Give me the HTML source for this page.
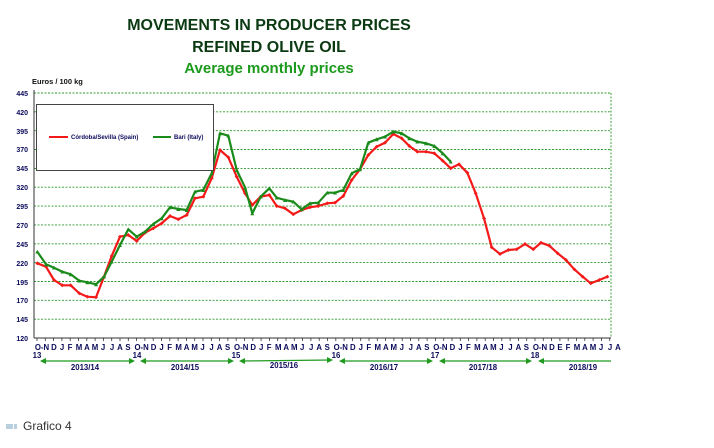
<!DOCTYPE html>
<html><head><meta charset="utf-8"><style>
body{margin:0;background:#fff;width:714px;height:443px;overflow:hidden;font-family:"Liberation Sans",sans-serif}
</style></head><body>
<svg width="714" height="443" xmlns="http://www.w3.org/2000/svg" font-family="Liberation Sans, sans-serif">
<defs>
<marker id="mr" markerWidth="4" markerHeight="4" refX="2" refY="2" markerUnits="userSpaceOnUse"><path d="M0 2L2 0L4 2L2 4z" fill="#f41a1a"/></marker>
<marker id="mg" markerWidth="4" markerHeight="4" refX="2" refY="2" markerUnits="userSpaceOnUse"><path d="M0 4L2 0L4 4z" fill="#1a8a1a"/></marker>
</defs>
<g font-weight="bold" text-anchor="middle">
<text x="269" y="30" font-size="16" fill="#0b3a12">MOVEMENTS IN PRODUCER PRICES</text>
<text x="269" y="52" font-size="16" fill="#0b3a12">REFINED OLIVE OIL</text>
<text x="269" y="73" font-size="15" fill="#1c9a1c">Average monthly prices</text>
</g>
<text x="32" y="84" font-size="7.5" font-weight="bold" fill="#111">Euros / 100 kg</text>
<g stroke="#2a9a2a" stroke-width="0.9" stroke-dasharray="2,1.5">
<line x1="34" x2="611" y1="93" y2="93"/><line x1="34" x2="611" y1="111.8" y2="111.8"/><line x1="34" x2="611" y1="130.7" y2="130.7"/><line x1="34" x2="611" y1="149.5" y2="149.5"/><line x1="34" x2="611" y1="168.4" y2="168.4"/><line x1="34" x2="611" y1="187.2" y2="187.2"/><line x1="34" x2="611" y1="206.1" y2="206.1"/><line x1="34" x2="611" y1="224.9" y2="224.9"/><line x1="34" x2="611" y1="243.8" y2="243.8"/><line x1="34" x2="611" y1="262.6" y2="262.6"/><line x1="34" x2="611" y1="281.5" y2="281.5"/><line x1="34" x2="611" y1="300.3" y2="300.3"/><line x1="34" x2="611" y1="319.2" y2="319.2"/>
<line x1="611" x2="611" y1="93" y2="338"/>
</g>
<g font-size="7" font-weight="bold" fill="#0a0a5a" text-anchor="end">
<text x="28" y="96">445</text><text x="28" y="115">420</text><text x="28" y="134">395</text><text x="28" y="152">370</text><text x="28" y="171">345</text><text x="28" y="190">320</text><text x="28" y="209">295</text><text x="28" y="228">270</text><text x="28" y="247">245</text><text x="28" y="266">220</text><text x="28" y="285">195</text><text x="28" y="303">170</text><text x="28" y="322">145</text><text x="28" y="341">120</text>
</g>
<line x1="34" x2="34" y1="90" y2="338" stroke="#333" stroke-width="1"/>
<line x1="34" x2="611" y1="338" y2="338" stroke="#333" stroke-width="1"/>
<path d="M37 338v3M45.3 338v3M53.6 338v3M61.9 338v3M70.2 338v3M78.5 338v3M86.8 338v3M95.1 338v3M103.4 338v3M111.7 338v3M120 338v3M128.3 338v3M136.6 338v3M144.9 338v3M153.2 338v3M161.5 338v3M169.8 338v3M178.1 338v3M186.4 338v3M194.7 338v3M203 338v3M211.3 338v3M219.6 338v3M227.9 338v3M236.2 338v3M244.5 338v3M252.8 338v3M261.1 338v3M269.4 338v3M277.7 338v3M286 338v3M294.3 338v3M302.6 338v3M310.9 338v3M319.2 338v3M327.5 338v3M335.8 338v3M344.1 338v3M352.4 338v3M360.7 338v3M369 338v3M377.3 338v3M385.6 338v3M393.9 338v3M402.2 338v3M410.5 338v3M418.8 338v3M427.1 338v3M435.4 338v3M443.7 338v3M452 338v3M460.3 338v3M468.6 338v3M476.9 338v3M485.2 338v3M493.5 338v3M501.8 338v3M510.1 338v3M518.4 338v3M526.7 338v3M535 338v3M543.3 338v3M551.6 338v3M559.9 338v3M568.2 338v3M576.5 338v3M584.8 338v3M593.1 338v3M601.4 338v3M609.7 338v3" stroke="#333" stroke-width="0.8"/>
<g font-size="7.8" font-weight="bold" fill="#0a0a5a" text-anchor="middle">
<g><text x="42" y="350">O-N</text><text x="54" y="350">D</text><text x="62" y="350">J</text><text x="70" y="350">F</text><text x="79" y="350">M</text><text x="87" y="350">A</text><text x="95" y="350">M</text><text x="103" y="350">J</text><text x="112" y="350">J</text><text x="120" y="350">A</text><text x="128" y="350">S</text></g>
<g transform="translate(99.6,0)"><text x="42" y="350">O-N</text><text x="54" y="350">D</text><text x="62" y="350">J</text><text x="70" y="350">F</text><text x="79" y="350">M</text><text x="87" y="350">A</text><text x="95" y="350">M</text><text x="103" y="350">J</text><text x="112" y="350">J</text><text x="120" y="350">A</text><text x="128" y="350">S</text></g>
<g transform="translate(199.2,0)"><text x="42" y="350">O-N</text><text x="54" y="350">D</text><text x="62" y="350">J</text><text x="70" y="350">F</text><text x="79" y="350">M</text><text x="87" y="350">A</text><text x="95" y="350">M</text><text x="103" y="350">J</text><text x="112" y="350">J</text><text x="120" y="350">A</text><text x="128" y="350">S</text></g>
<g transform="translate(298.8,0)"><text x="42" y="350">O-N</text><text x="54" y="350">D</text><text x="62" y="350">J</text><text x="70" y="350">F</text><text x="79" y="350">M</text><text x="87" y="350">A</text><text x="95" y="350">M</text><text x="103" y="350">J</text><text x="112" y="350">J</text><text x="120" y="350">A</text><text x="128" y="350">S</text></g>
<g transform="translate(398.4,0)"><text x="42" y="350">O-N</text><text x="54" y="350">D</text><text x="62" y="350">J</text><text x="70" y="350">F</text><text x="79" y="350">M</text><text x="87" y="350">A</text><text x="95" y="350">M</text><text x="103" y="350">J</text><text x="112" y="350">J</text><text x="120" y="350">A</text><text x="128" y="350">S</text></g>
<g transform="translate(498,0)"><text x="42" y="350">O-N</text><text x="54" y="350">D</text><text x="62" y="350">E</text><text x="70" y="350">F</text><text x="79" y="350">M</text><text x="87" y="350">A</text><text x="95" y="350">M</text><text x="103" y="350">J</text><text x="112" y="350">J</text><text x="120" y="350">A</text></g>
<text x="37" y="358">13</text><text x="137" y="358">14</text><text x="236" y="358">15</text><text x="336" y="358">16</text><text x="435" y="358">17</text><text x="535" y="358">18</text>
<text x="85" y="370">2013/14</text><text x="185" y="370">2014/15</text><text x="284" y="368">2015/16</text><text x="384" y="370">2016/17</text><text x="483" y="370">2017/18</text><text x="583" y="370">2018/19</text>
</g>
<g stroke="#1f9a1f" stroke-width="1.2" fill="#1f9a1f">
<line x1="42" x2="133" y1="361" y2="361"/><path d="M40 361l6-3v6zM135 361l-6-3v6z" stroke="none"/>
<line x1="142" x2="232" y1="361" y2="361"/><path d="M140 361l6-3v6zM234 361l-6-3v6z" stroke="none"/>
<line x1="241" x2="331" y1="361" y2="360"/><path d="M239 361l6-3v6zM333 360l-6-3v6z" stroke="none"/>
<line x1="341" x2="431" y1="361" y2="361"/><path d="M339 361l6-3v6zM433 361l-6-3v6z" stroke="none"/>
<line x1="441" x2="530" y1="361" y2="361"/><path d="M439 361l6-3v6zM532 361l-6-3v6z" stroke="none"/>
<line x1="540" x2="611" y1="361" y2="361"/><path d="M538 361l6-3v6z" stroke="none"/>
</g>
<polyline fill="none" stroke="#f41a1a" stroke-width="2.2" stroke-linejoin="round" marker-start="url(#mr)" marker-mid="url(#mr)" marker-end="url(#mr)" points="37.3,263.3 46,266.7 54,280 62.3,285.3 70.7,285.3 79.3,293.3 87.3,296.7 96,297.3 104,276.7 111.7,256 120,236.7 128.3,235 136.7,241 145,232.7 153.3,228.3 161.7,223.3 170,216 178.3,219.3 186.7,215 195,198.3 203.3,196.7 211.7,178.3 220,150 228.3,157.3 236.7,176.7 245,193.3 252.3,205 260.7,196.7 269.3,195 276.7,206 285,208.3 293.3,214.3 301.7,210 310,207.3 318.3,206 327.3,203.3 335,202.7 343.3,196 351.7,180 360,169.3 368.3,155 376.7,146.7 385,142.7 393.3,134 401.7,138.3 409.3,146 417.3,151.7 426,151.7 434.3,153.3 442.7,160.7 450.7,168.3 459,164.3 467.3,172.7 475.7,193.3 484,218.3 491.7,247.3 500,254 508.3,250 516.7,249.3 525,244 533.3,249.3 541,242.7 549.3,245.7 557.7,253.3 566,260 574.3,269.3 582.7,276.7 590.7,283.3 599.3,280 607.3,276.7"/>
<polyline fill="none" stroke="#1a8a1a" stroke-width="2.2" stroke-linejoin="round" marker-start="url(#mg)" marker-mid="url(#mg)" marker-end="url(#mg)" points="37.3,251.7 46,264.3 54,267.7 62.3,271.7 70.7,274.3 79.3,280.7 87.3,282.3 96,284.3 104,276.7 111.7,261.7 120,245 128.3,229.3 136.7,236.7 145,231.7 153.3,224 161.7,218.3 170,207.3 178.3,209 186.7,210 195,191.7 203.3,190 211.7,173.3 220,133.3 228.3,135.7 236.7,170 245,187.3 252.3,213.3 260.7,196.7 269.3,188.3 276.7,197.7 285,200 293.3,201.7 301.7,209.3 310,203.3 318.3,202.7 327.3,192.7 335,192.7 343.3,190 351.7,173.3 360,169.3 368.3,142.7 376.7,139.3 385,136.7 393.3,131.7 401.7,133.3 409.3,138.3 417.3,141.7 426,143.3 434.3,146 442.7,153.3 450.7,161.7"/>
<rect x="36.5" y="104.5" width="177" height="66" fill="#fff" stroke="#444" stroke-width="1"/>
<line x1="49" x2="68" y1="137" y2="137" stroke="#f41a1a" stroke-width="2"/>
<line x1="153" x2="171" y1="137" y2="137" stroke="#1a8a1a" stroke-width="2"/>
<text x="71" y="139" font-size="6" font-weight="bold" fill="#0a0a5a">Córdoba/Sevilla (Spain)</text>
<text x="174" y="139" font-size="6" font-weight="bold" fill="#0a0a5a">Bari (Italy)</text>
<rect x="6" y="424" width="7" height="5" fill="#b8cfe0"/><rect x="14" y="424" width="3" height="5" fill="#b8cfe0"/>
<text x="23" y="430" font-size="12" fill="#333">Grafico 4</text>
</svg>
</body></html>
